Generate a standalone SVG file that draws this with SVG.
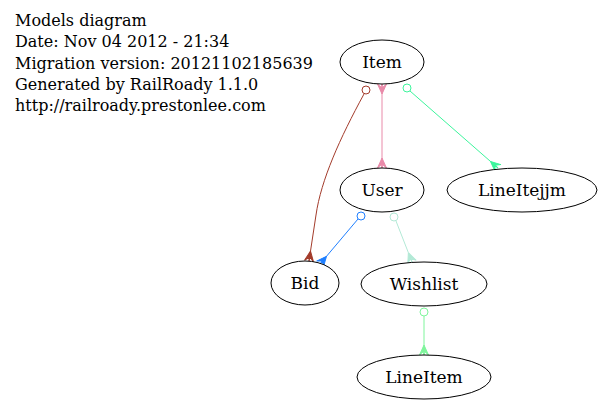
<svg xmlns="http://www.w3.org/2000/svg" width="603" height="405" viewBox="0 0 603 405">
<style>
text{font-family:"DejaVu Serif","Liberation Serif",serif;font-size:16px;fill:#000}
.node ellipse{fill:#fff;stroke:#000;stroke-width:1}
.node text{text-anchor:middle;font-size:17px}
.edge{fill:none;stroke-width:1}
.odot{fill:#fff;stroke-width:1}
</style>
<defs>
<marker id="cBrown" viewBox="0 -6 12 12" refX="10" refY="0" markerWidth="12" markerHeight="12" markerUnits="userSpaceOnUse" orient="auto"><path d="M0,0 L10,-4.5 L6,0 L10,0 L6,0 L10,4.5 Z" fill="#a33b2b" stroke="#a33b2b"/></marker>
<marker id="cPink" viewBox="0 -6 12 12" refX="10" refY="0" markerWidth="12" markerHeight="12" markerUnits="userSpaceOnUse" orient="auto-start-reverse"><path d="M0,0 L10,-4.5 L6,0 L10,0 L6,0 L10,4.5 Z" fill="#e98aa9" stroke="#e98aa9"/></marker>
<marker id="cGreen" viewBox="0 -6 12 12" refX="10" refY="0" markerWidth="12" markerHeight="12" markerUnits="userSpaceOnUse" orient="auto"><path d="M0,0 L10,-4.5 L6,0 L10,0 L6,0 L10,4.5 Z" fill="#3cf59c" stroke="#3cf59c"/></marker>
<marker id="cBlue" viewBox="0 -6 12 12" refX="10" refY="0" markerWidth="12" markerHeight="12" markerUnits="userSpaceOnUse" orient="auto"><path d="M0,0 L10,-4.5 L6,0 L10,0 L6,0 L10,4.5 Z" fill="#1f7fff" stroke="#1f7fff"/></marker>
<marker id="cTeal" viewBox="0 -6 12 12" refX="10" refY="0" markerWidth="12" markerHeight="12" markerUnits="userSpaceOnUse" orient="auto"><path d="M0,0 L10,-4.5 L6,0 L10,0 L6,0 L10,4.5 Z" fill="#b3e9d6" stroke="#b3e9d6"/></marker>
<marker id="cLgreen" viewBox="0 -6 12 12" refX="10" refY="0" markerWidth="12" markerHeight="12" markerUnits="userSpaceOnUse" orient="auto"><path d="M0,0 L10,-4.5 L6,0 L10,0 L6,0 L10,4.5 Z" fill="#7ff59c" stroke="#7ff59c"/></marker>
</defs>
<rect width="603" height="405" fill="#fff"/>
<g id="header">
<text x="15" y="26">Models diagram</text>
<text x="15" y="47">Date: Nov 04 2012 - 21:34</text>
<text x="15" y="69">Migration version: 20121102185639</text>
<text x="15" y="90">Generated by RailRoady 1.1.0</text>
<text x="15" y="111">http://railroady.prestonlee.com</text>
</g>
<g id="connectors">
<path class="edge" stroke="#a33b2b" d="M364,94 C340,138 321,180 316,215 L309,261" marker-end="url(#cBrown)"/>
<circle class="odot" stroke="#a33b2b" cx="366" cy="90" r="4"/>
<path class="edge" stroke="#e98aa9" d="M382,84 L382,168" marker-start="url(#cPink)" marker-end="url(#cPink)"/>
<path class="edge" stroke="#3cf59c" d="M410,91 L498,168" marker-end="url(#cGreen)"/>
<circle class="odot" stroke="#3cf59c" cx="407" cy="88" r="4"/>
<path class="edge" stroke="#1f7fff" d="M358,219 L320,264" marker-end="url(#cBlue)"/>
<circle class="odot" stroke="#1f7fff" cx="361" cy="216" r="4"/>
<path class="edge" stroke="#b3e9d6" d="M396,221 L412,262" marker-end="url(#cTeal)"/>
<circle class="odot" stroke="#b3e9d6" cx="394" cy="217" r="4"/>
<path class="edge" stroke="#7ff59c" d="M424,316 L424,355" marker-end="url(#cLgreen)"/>
<circle class="odot" stroke="#7ff59c" cx="424" cy="312" r="4"/>
</g>
<g id="Item" class="node"><ellipse cx="382" cy="62" rx="42" ry="22"/><text x="382" y="68">Item</text></g>
<g id="User" class="node"><ellipse cx="382" cy="190" rx="42" ry="22"/><text x="382" y="196">User</text></g>
<g id="LineItejjm" class="node"><ellipse cx="522" cy="190" rx="75" ry="22"/><text x="522" y="196">LineItejjm</text></g>
<g id="Bid" class="node"><ellipse cx="305" cy="283" rx="34" ry="22"/><text x="305" y="289">Bid</text></g>
<g id="Wishlist" class="node"><ellipse cx="424" cy="284" rx="63" ry="22"/><text x="424" y="290">Wishlist</text></g>
<g id="LineItem" class="node"><ellipse cx="424" cy="377" rx="67" ry="22"/><text x="424" y="383">LineItem</text></g>
</svg>
